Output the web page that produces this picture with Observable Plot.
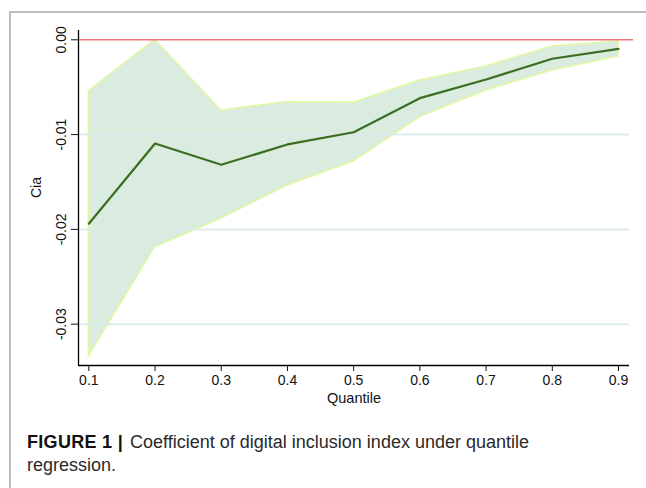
<!DOCTYPE html>
<html>
<head>
<meta charset="utf-8">
<script src="https://cdn.jsdelivr.net/npm/d3@7"></script>
<script src="https://cdn.jsdelivr.net/npm/@observablehq/plot@0.6"></script>
<style>
  html, body { margin: 0; padding: 0; background: #fff; }
  #wrap { position: relative; width: 646px; height: 488px; overflow: hidden; background: #fff; }
  #border { position: absolute; left: 9px; top: 11px; width: 700px; height: 600px;
            border-top: 2px solid #bdbdbd; border-left: 2px solid #bdbdbd; }
  #chart { position: absolute; left: 0; top: 0; }
  #caption { position: absolute; left: 27px; top: 431px; width: 615px;
             font-family: "Liberation Sans", Arial, sans-serif; font-size: 18px;
             line-height: 23px; color: #2a2a2a; }
  #caption b { font-weight: bold; color: #111; letter-spacing: 0.3px; margin-right: 2px; }
</style>
</head>
<body>
<div id="wrap">
  <div id="border"></div>
  <div id="chart"></div>
  <div id="caption"><b>FIGURE 1 |</b> Coefficient of digital inclusion index under quantile<br>regression.</div>
</div>
<script>
const quantiles = [0.1, 0.2, 0.3, 0.4, 0.5, 0.6, 0.7, 0.8, 0.9];
const coefficient = [-0.0194, -0.01094, -0.01319, -0.01104, -0.00975, -0.00616, -0.00419, -0.00200, -0.00095];
const upperCI = [-0.00545, 0.0, -0.00746, -0.00658, -0.00665, -0.00429, -0.00282, -0.00071, -0.00018];
const lowerCI = [-0.03341, -0.02188, -0.01885, -0.01537, -0.01284, -0.00816, -0.00535, -0.00324, -0.00176];
const yTicks = [0, -0.01, -0.02, -0.03];
const xTicks = quantiles;
const xLabel = "Quantile";
const yLabel = "Cia";

const data = quantiles.map((q, i) => ({q, c: coefficient[i], hi: upperCI[i], lo: lowerCI[i]}));
const xDomain = [0.0844, 0.9166];
const yDomain = [-0.03436, 0.00098];

const chart = Plot.plot({
  width: 646,
  height: 420,
  marginTop: 30,
  marginBottom: 55,
  marginLeft: 78,
  marginRight: 17,
  x: {domain: xDomain},
  y: {domain: yDomain},
  style: {fontFamily: "'Liberation Sans', Arial, sans-serif", fontSize: "14px", background: "transparent", color: "#111"},
  marks: [
    Plot.areaY(data, {x: "q", y1: "lo", y2: "hi", fill: "#d9ecdf", stroke: "#e2f7a0", strokeWidth: 1.5}),
    Plot.ruleY(yTicks.filter(d => d < 0), {stroke: "#dce9eb", strokeWidth: 2, strokeOpacity: 0.9}),
    Plot.ruleY([0], {stroke: "#ec7676", strokeWidth: 1.5, insetRight: -4}),
    Plot.lineY(data, {x: "q", y: "c", stroke: "#3c6e22", strokeWidth: 2.2}),
    Plot.ruleX([xDomain[0]], {stroke: "#000", strokeWidth: 1.3}),
    Plot.ruleY([yDomain[0]], {stroke: "#000", strokeWidth: 1.3}),
    Plot.axisX({ticks: xTicks, tickFormat: d => d.toFixed(1), tickSize: 6, tickPadding: 4, fontSize: 14, label: null}),
    Plot.axisY({ticks: yTicks, tickFormat: d => d.toFixed(2), tickSize: 7, tickPadding: 6, tickRotate: -90, fontSize: 14, label: null}),
    Plot.text([xLabel], {frameAnchor: "bottom", dy: 37, fontSize: 14.5, fill: "#111"}),
    Plot.text([yLabel], {frameAnchor: "left", rotate: -90, dx: -42, fontSize: 14, fill: "#111"})
  ]
});
document.getElementById("chart").appendChild(chart);
</script>
</body>
</html>
